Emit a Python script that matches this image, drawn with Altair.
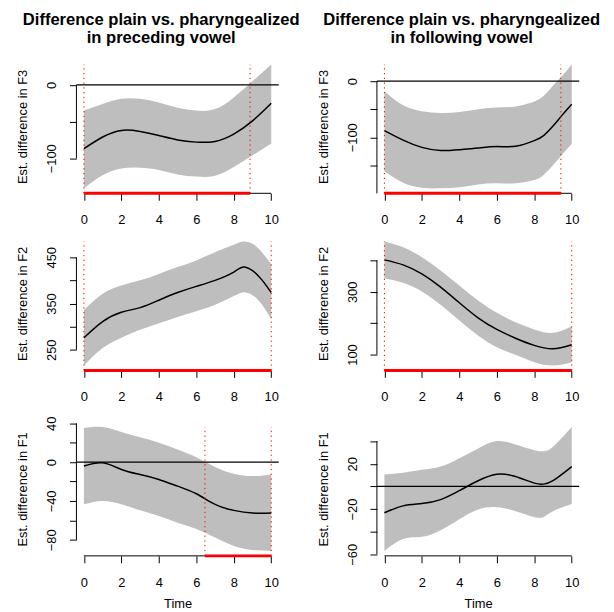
import altair as alt
import pandas as pd

FONT = "Liberation Sans"
W, H = 204, 135
XTICKS = [0, 2, 4, 6, 8, 10]
XDOMAIN = [-0.4, 10.4]

# ---- Top-left: F3, preceding vowel
TL_T = [0, 1, 2, 3, 4, 5, 6, 7, 8, 9, 10]
TL_EST = [-87, -71, -62, -63.5, -69, -75, -78, -77, -67, -49, -25]
TL_HI = [-35, -26, -19, -19, -24, -31, -35, -33, -17, 5, 28]
TL_LO = [-141, -123, -114, -113, -116, -122, -125, -124, -112, -96, -80]
TL_YTICKS = [-100, -50, 0]
TL_YLABELS = [-100, 0]
TL_SIG = [0, 8.87]

# ---- Top-right: F3, following vowel
TR_T = [0, 1, 2, 3, 4, 5, 6, 7, 8, 8.5, 9, 9.5, 10]
TR_EST = [-88, -105, -118, -123.5, -122, -119, -116.5, -116, -106, -97, -80, -60, -41]
TR_HI = [-18, -43, -53.5, -56.5, -55, -50, -47, -45, -36, -26, -8, 10, 30]
TR_LO = [-160.6, -181, -190, -191, -189, -184, -182, -182, -176, -167, -150, -130, -112]
TR_YTICKS = [-200, -150, -100, -50, 0]
TR_YLABELS = [-200, -100, 0]
TR_SIG = [0, 9.42]

# ---- Middle-left: F2, preceding vowel
ML_T = [0, 1, 2, 3, 4, 5, 6, 7, 8, 8.5, 9, 9.5, 10]
ML_EST = [276, 311, 331, 341, 357, 373.6, 387, 400, 418, 429, 421, 401, 373.7]
ML_HI = [335.7, 371, 389, 400, 414, 428.6, 443, 461, 477, 484, 479, 461, 435]
ML_LO = [216, 253.6, 276, 293, 307, 321, 333, 347, 366, 374, 368, 348, 316]
ML_YTICKS = [250, 300, 350, 400, 450]
ML_YLABELS = [250, 350, 450]
ML_SIG = [0, 10]

# ---- Middle-right: F2, following vowel
MR_T = [0, 1, 2, 3, 4, 5, 6, 7, 8, 9, 10]
MR_EST = [402, 386, 357, 315, 265, 217, 180, 152, 129, 118, 131]
MR_HI = [460.6, 442.5, 410.6, 368, 320, 272, 233, 203, 180, 169, 190]
MR_LO = [343.6, 328.7, 301, 258.5, 208.5, 160.6, 123, 99, 75.5, 65, 75.5]
MR_YTICKS = [100, 200, 300, 400]
MR_YLABELS = [100, 300]
MR_SIG = [0, 10]

# ---- Bottom-left: F1, preceding vowel
BL_T = [0, 1, 2, 3, 4, 5, 6, 7, 8, 9, 10]
BL_EST = [-4, -0.7, -7.5, -12.7, -17.8, -24.7, -32.6, -43.5, -49.7, -52.5, -52.5]
BL_HI = [35.3, 36.3, 31, 25.7, 20, 13, 5, -5, -12, -14.4, -12.7]
BL_LO = [-43.5, -40, -43.5, -49.7, -55.5, -62.4, -69, -77.8, -86.4, -90.5, -91.5]
BL_YTICKS = [-80, -60, -40, -20, 0, 20, 40]
BL_YLABELS = [-80, -40, 0, 40]
BL_SIG = [6.46, 10]

# ---- Bottom-right: F1, following vowel
BR_T = [0, 1, 2, 3, 4, 5, 6, 7, 8, 8.5, 9, 10]
BR_EST = [-23.3, -17.2, -15.2, -11.7, -3.8, 5, 10.8, 8.7, 2.9, 2, 5, 17.5]
BR_HI = [10.5, 12, 14.6, 17.5, 24.8, 33.5, 40, 37, 32, 31, 35, 52.5]
BR_LO = [-57, -46.5, -44.6, -38.8, -29, -20.4, -18.4, -21.9, -27, -27, -21.9, -15.5]
BR_YTICKS = [-60, -40, -20, 0, 20, 40]
BR_YLABELS = [-60, -20, 20]
BR_SIG = []

TITLE_L = ["Difference plain vs. pharyngealized", "in preceding vowel"]
TITLE_R = ["Difference plain vs. pharyngealized", "in following vowel"]


def panel(t, est, lo, hi, yticks, ylabels, ytitle, sig, title=None, xtitle=None,
          extra_top=0.0):
    lo_min, hi_max = min(lo), max(hi)
    pad = 0.04 * (hi_max - lo_min)
    ydom = [lo_min - pad, hi_max + pad]
    # extra empty room above the region (shifts the plot down in a flush grid)
    upp = (ydom[1] - ydom[0]) / H
    ydom[1] += extra_top * upp
    vh = H + extra_top
    df = pd.DataFrame({"t": t, "est": est, "lo": lo, "hi": hi})
    xscale = alt.Scale(domain=XDOMAIN, nice=False, zero=False)
    yscale = alt.Scale(domain=ydom, nice=False, zero=False)
    shown = ",".join(str(v) for v in ylabels)
    xaxis_kw = dict(
        values=XTICKS, domain=False, grid=False, tickSize=7, tickColor="black",
        tickWidth=1, labelFont=FONT, labelFontSize=13, labelColor="black",
        labelBaseline="alphabetic", labelPadding=23.5, labelFlush=False,
        labelOverlap=False,
    )
    if xtitle:
        xaxis = alt.Axis(title=xtitle, titleFont=FONT, titleFontSize=13,
                         titleFontWeight="normal", titleColor="black",
                         titleY=52, titleBaseline="alphabetic", **xaxis_kw)
    else:
        xaxis = alt.Axis(title=None, **xaxis_kw)
    yaxis = alt.Axis(
        values=yticks, domain=False, grid=False, tickSize=7, tickColor="black",
        tickWidth=1, labelFont=FONT, labelFontSize=13, labelColor="black",
        labelAngle=270, labelAlign="center", labelBaseline="alphabetic",
        labelPadding=14, labelFlush=False, labelOverlap=False,
        labelExpr=f"indexof([{shown}], datum.value) >= 0 ? datum.label : ''",
        title=ytitle, titleFont=FONT, titleFontSize=13, titleFontWeight="normal",
        titleColor="black", titleAngle=270, titleX=-54, titleY=extra_top + H / 2,
        titleAlign="center", titleBaseline="middle",
    )

    def X(f):
        return alt.X(f, scale=xscale, axis=xaxis)

    def Y(f):
        return alt.Y(f, scale=yscale, axis=yaxis)

    band = alt.Chart(df).mark_area(color="#BEBEBE", interpolate="natural").encode(
        x=X("t:Q"), y=Y("lo:Q"), y2="hi:Q")
    layers = [band]
    if ydom[0] < 0 < ydom[1]:
        zero = alt.Chart(pd.DataFrame({"z": [0]})).mark_rule(
            color="black", strokeWidth=1.2).encode(y=Y("z:Q"))
        layers.append(zero)
    line = alt.Chart(df).mark_line(color="black", strokeWidth=1.5,
                                   interpolate="natural").encode(
        x=X("t:Q"), y=Y("est:Q"))
    layers.append(line)
    # axis lines like R: from first to last tick
    yline = alt.Chart(pd.DataFrame({"a": [min(yticks)], "b": [max(yticks)]})).mark_rule(
        color="black", strokeWidth=1).encode(x=alt.value(0), y=Y("a:Q"), y2="b:Q")
    xline = alt.Chart(pd.DataFrame({"a": [min(XTICKS)], "b": [max(XTICKS)]})).mark_rule(
        color="black", strokeWidth=1).encode(x=X("a:Q"), x2="b:Q", y=alt.value(vh))
    layers += [yline, xline]
    if sig:
        dots = alt.Chart(pd.DataFrame({"x": sig, "bot": [ydom[0]] * len(sig),
                                       "top": [hi_max] * len(sig)})).mark_rule(
            color="#FF0000", strokeWidth=1, strokeDash=[1.3, 3.5]).encode(
            x=X("x:Q"), y=Y("bot:Q"), y2="top:Q")
        red = alt.Chart(pd.DataFrame({"s": [sig[0]], "e": [sig[1]]})).mark_rule(
            color="#FF0000", strokeWidth=3, strokeCap="butt").encode(
            x=X("s:Q"), x2="e:Q", y=alt.value(vh))
        layers += [dots, red]
    props = dict(width=W, height=vh)
    if title:
        props["title"] = alt.TitleParams(
            text=title, font=FONT, fontSize=16.7, fontWeight="bold", color="black",
            lineHeight=17.7, anchor="middle", dx=-16.5, offset=13)
    return alt.layer(*layers).properties(**props)


tl = panel(TL_T, TL_EST, TL_LO, TL_HI, TL_YTICKS, TL_YLABELS,
           "Est. difference in F3", TL_SIG, title=TITLE_L)
tr = panel(TR_T, TR_EST, TR_LO, TR_HI, TR_YTICKS, TR_YLABELS,
           "Est. difference in F3", TR_SIG, title=TITLE_R)
ml = panel(ML_T, ML_EST, ML_LO, ML_HI, ML_YTICKS, ML_YLABELS,
           "Est. difference in F2", ML_SIG)
mr = panel(MR_T, MR_EST, MR_LO, MR_HI, MR_YTICKS, MR_YLABELS,
           "Est. difference in F2", MR_SIG)
bl = panel(BL_T, BL_EST, BL_LO, BL_HI, BL_YTICKS, BL_YLABELS,
           "Est. difference in F1", BL_SIG, xtitle="Time", extra_top=8.4)
br = panel(BR_T, BR_EST, BR_LO, BR_HI, BR_YTICKS, BR_YLABELS,
           "Est. difference in F1", BR_SIG, xtitle="Time", extra_top=8.4)

chart = alt.concat(
    tl, tr, ml, mr, bl, br, columns=2, bounds="flush",
    spacing={"row": 43.6, "column": 99},
).properties(
    padding={"left": 9, "top": 1.3, "right": 5, "bottom": 5},
    background="white",
).configure_view(stroke=None)

chart.save("out.html", embed_options={"renderer": "svg", "actions": False})
